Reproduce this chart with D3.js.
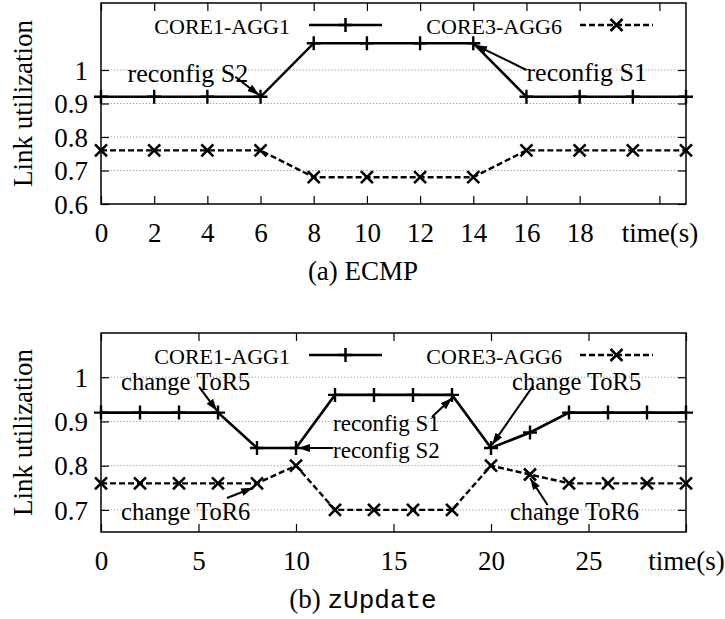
<!DOCTYPE html>
<html>
<head>
<meta charset="utf-8">
<script src="https://cdn.jsdelivr.net/npm/d3@7"></script>
<style>
  html, body { margin: 0; padding: 0; background: #fff; }
  svg { display: block; }
  text { font-family: "Liberation Serif", "Tinos", "Times New Roman", "DejaVu Serif", serif; fill: #000; }
</style>
</head>
<body>
<svg id="chart" width="725" height="619"></svg>
<script>
// ---------------- data ----------------
const seriesNames = ["CORE1-AGG1", "CORE3-AGG6"];

// (a) ECMP
const ecmpTimes = [0, 2, 4, 6, 8, 10, 12, 14, 16, 18, 20, 22];
const ecmpCore1 = [0.92, 0.92, 0.92, 0.92, 1.08, 1.08, 1.08, 1.08, 0.92, 0.92, 0.92, 0.92];
const ecmpCore3 = [0.76, 0.76, 0.76, 0.76, 0.68, 0.68, 0.68, 0.68, 0.76, 0.76, 0.76, 0.76];
const ecmpXTicks = [0, 2, 4, 6, 8, 10, 12, 14, 16, 18, 21];
const ecmpXLabels = ["0", "2", "4", "6", "8", "10", "12", "14", "16", "18", "time(s)"];
const ecmpYTicks = [0.6, 0.7, 0.8, 0.9, 1];
const ecmpYLabels = ["0.6", "0.7", "0.8", "0.9", "1"];
const ecmpAnnotations = [
  { text: "reconfig S2", at: [1.0, 0.99], from: [5.05, 0.98], to: [5.95, 0.925] },
  { text: "reconfig S1", at: [16.0, 0.994], from: [16.0, 1.0], to: [14.07, 1.075] }
];

// (b) zUpdate
const zTimes = [0, 2, 4, 6, 8, 10, 12, 14, 16, 18, 20, 22, 24, 26, 28, 30];
const zCore1 = [0.92, 0.92, 0.92, 0.92, 0.84, 0.84, 0.96, 0.96, 0.96, 0.96, 0.84, 0.875, 0.92, 0.92, 0.92, 0.92];
const zCore3 = [0.76, 0.76, 0.76, 0.76, 0.76, 0.80, 0.70, 0.70, 0.70, 0.70, 0.80, 0.78, 0.76, 0.76, 0.76, 0.76];
const zXTicks = [0, 5, 10, 15, 20, 25, 30];
const zXLabels = ["0", "5", "10", "15", "20", "25", "time(s)"];
const zYTicks = [0.7, 0.8, 0.9, 1];
const zYLabels = ["0.7", "0.8", "0.9", "1"];
const zAnnotations = [
  { text: "change ToR5", at: [1.03, 0.989], from: [5.03, 0.978], to: [5.95, 0.924], size: 24.5 },
  { text: "change ToR6", at: [1.03, 0.695], from: [6.46, 0.727], to: [7.8, 0.75], size: 24.5 },
  { text: "reconfig S1", at: [11.9, 0.896], from: [16.97, 0.91], to: [18.0, 0.953], size: 23 },
  { text: "reconfig S2", at: [11.9, 0.835], from: [11.9, 0.84], to: [10.1, 0.84], size: 23 },
  { text: "change ToR5", at: [21.08, 0.989], from: [22.15, 0.98], to: [20.05, 0.847], size: 24.5 },
  { text: "change ToR6", at: [20.97, 0.695], from: [22.9, 0.711], to: [22.0, 0.772], size: 24.5 }
];

// ---------------- drawing ----------------
const svg = d3.select("#chart");

svg.append("defs").append("marker")
  .attr("id", "head")
  .attr("viewBox", "-12 -5 13 10")
  .attr("refX", 0).attr("refY", 0)
  .attr("markerWidth", 13).attr("markerHeight", 10)
  .attr("markerUnits", "userSpaceOnUse")
  .attr("orient", "auto")
  .append("path")
  .attr("d", "M0,0L-12,-4L-12,4Z")
  .attr("fill", "#000");

const plusPath = "M-7,0H7M0,-7V7";
const crossPath = "M-6,-6L6,6M6,-6L-6,6";
const serif = "'Liberation Serif', 'Tinos', 'Times New Roman', 'DejaVu Serif', serif";

function drawPanel(cfg) {
  const x = d3.scaleLinear().domain(cfg.xDomain).range([101, 686]);
  const y = d3.scaleLinear().domain(cfg.yDomain).range([cfg.bottom, cfg.top]);
  const g = svg.append("g");

  // grid
  g.append("g").selectAll("line").data(cfg.yTicks.filter(v => v > cfg.yDomain[0]))
    .join("line")
    .attr("x1", x.range()[0]).attr("x2", x.range()[1])
    .attr("y1", d => y(d)).attr("y2", d => y(d))
    .attr("stroke", "#999").attr("stroke-width", 1).attr("stroke-dasharray", "1.2,2");

  // axes (inward ticks)
  const xb = d3.axisBottom(x).tickValues(cfg.xTicks)
    .tickFormat((d, i) => cfg.xLabels[i]).tickSizeInner(-8).tickSizeOuter(0).tickPadding(19);
  const gx = g.append("g").attr("transform", `translate(0,${cfg.bottom})`).call(xb);
  const xt = d3.axisTop(x).tickValues(cfg.xTicks).tickFormat("").tickSizeInner(-8).tickSizeOuter(0);
  const gxt = g.append("g").attr("transform", `translate(0,${cfg.top})`).call(xt);
  const yl = d3.axisLeft(y).tickValues(cfg.yTicks)
    .tickFormat((d, i) => cfg.yLabels[i]).tickSizeInner(-8).tickSizeOuter(0).tickPadding(13);
  const gy = g.append("g").attr("transform", `translate(101,0)`).call(yl);
  const yr = d3.axisRight(y).tickValues(cfg.yTicks).tickFormat("").tickSizeInner(-8).tickSizeOuter(0);
  const gyr = g.append("g").attr("transform", `translate(686,0)`).call(yr);
  [gx, gxt, gy, gyr].forEach(a => {
    a.attr("font-family", serif);
    a.select(".domain").remove();
    a.selectAll(".tick line").attr("stroke", "#000").attr("stroke-width", 1.2);
    a.selectAll("text").attr("font-family", serif).attr("font-size", 27).attr("fill", "#000");
  });
  gy.selectAll("text").attr("dy", "0.34em");

  // frame
  g.append("rect")
    .attr("x", 101).attr("y", cfg.top)
    .attr("width", 585).attr("height", cfg.bottom - cfg.top)
    .attr("fill", "none").attr("stroke", "#000").attr("stroke-width", 1.5);

  // y label
  g.append("text")
    .attr("transform", `translate(32,${(cfg.top + cfg.bottom) / 2}) rotate(-90)`)
    .attr("text-anchor", "middle")
    .attr("font-size", 27)
    .text("Link utilization");

  // series
  const line = d3.line().x(d => x(d[0])).y(d => y(d[1]));
  const s1 = cfg.times.map((t, i) => [t, cfg.c1[i]]);
  const s3 = cfg.times.map((t, i) => [t, cfg.c3[i]]);

  g.append("path").datum(s3).attr("d", line)
    .attr("fill", "none").attr("stroke", "#000").attr("stroke-width", 2.4)
    .attr("stroke-dasharray", "6,3");
  g.append("g").selectAll("path").data(s3).join("path")
    .attr("transform", d => `translate(${x(d[0])},${y(d[1])})`)
    .attr("d", crossPath).attr("stroke", "#000").attr("stroke-width", 2.6).attr("fill", "none");

  g.append("path").datum(s1).attr("d", line)
    .attr("fill", "none").attr("stroke", "#000").attr("stroke-width", 2.6);
  g.append("g").selectAll("path").data(s1).join("path")
    .attr("transform", d => `translate(${x(d[0])},${y(d[1])})`)
    .attr("d", plusPath).attr("stroke", "#000").attr("stroke-width", 2.4).attr("fill", "none");

  // legend
  const ly = cfg.top + 22;
  const legendItems = [
    { name: seriesNames[0], textEnd: 290, x0: 309, x1: 382, dash: null, marker: plusPath },
    { name: seriesNames[1], textEnd: 562, x0: 580, x1: 653, dash: "6,3", marker: crossPath }
  ];
  legendItems.forEach(it => {
    g.append("text").attr("x", it.textEnd).attr("y", ly + 9)
      .attr("text-anchor", "end").attr("font-size", 22).text(it.name);
    g.append("line").attr("x1", it.x0).attr("x2", it.x1).attr("y1", ly).attr("y2", ly)
      .attr("stroke", "#000").attr("stroke-width", it.dash ? 2.4 : 2.6)
      .attr("stroke-dasharray", it.dash);
    g.append("path").attr("transform", `translate(${(it.x0 + it.x1) / 2},${ly})`)
      .attr("d", it.marker).attr("stroke", "#000").attr("stroke-width", 2.5).attr("fill", "none");
  });

  // annotations
  cfg.annotations.forEach(a => {
    g.append("text")
      .attr("x", x(a.at[0])).attr("y", y(a.at[1]))
      .attr("dy", "0.33em")
      .attr("font-size", a.size || cfg.annFont)
      .text(a.text);
    g.append("line")
      .attr("x1", x(a.from[0])).attr("y1", y(a.from[1]))
      .attr("x2", x(a.to[0])).attr("y2", y(a.to[1]))
      .attr("stroke", "#000").attr("stroke-width", 2)
      .attr("marker-end", "url(#head)");
  });

  // caption
  const cap = g.append("text")
    .attr("x", 363).attr("y", cfg.bottom + 76)
    .attr("text-anchor", "middle").attr("font-size", 27);
  cap.append("tspan").text(cfg.captionPrefix);
  cap.append("tspan")
    .attr("font-family", cfg.captionMono ? "'Liberation Mono', 'DejaVu Sans Mono', monospace" : null)
    .attr("font-size", cfg.captionMono ? 26 : null)
    .text(cfg.captionName);
}

drawPanel({
  times: ecmpTimes, c1: ecmpCore1, c3: ecmpCore3,
  xDomain: [0, 22], yDomain: [0.6, 1.2], top: 3, bottom: 204,
  xTicks: ecmpXTicks, xLabels: ecmpXLabels, yTicks: ecmpYTicks, yLabels: ecmpYLabels,
  annotations: ecmpAnnotations, annFont: 26,
  captionPrefix: "(a) ", captionName: "ECMP", captionMono: false
});

drawPanel({
  times: zTimes, c1: zCore1, c3: zCore3,
  xDomain: [0, 30], yDomain: [0.65, 1.1], top: 333, bottom: 532,
  xTicks: zXTicks, xLabels: zXLabels, yTicks: zYTicks, yLabels: zYLabels,
  annotations: zAnnotations, annFont: 23,
  captionPrefix: "(b) ", captionName: "zUpdate", captionMono: true
});
</script>
</body>
</html>
